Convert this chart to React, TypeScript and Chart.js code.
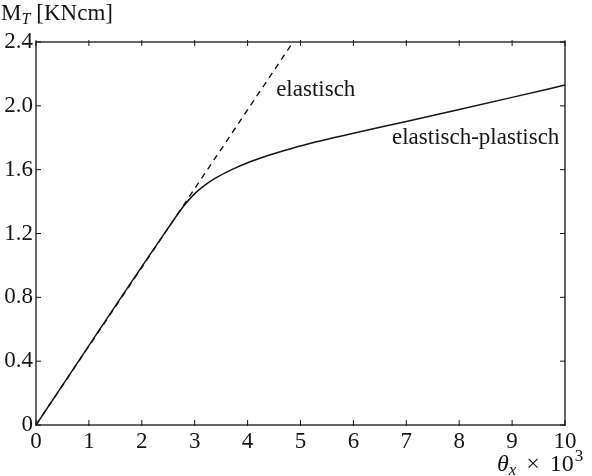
import React, { useEffect, useRef } from "react";
import { Chart, registerables } from "chart.js";

Chart.register(...registerables);

const elasticX = [0, 4.86];
const elasticY = [0, 2.4];

const plasticX = [0, 2.5, 2.8, 3.0, 3.2, 3.4, 3.7, 4.0, 4.4, 4.8, 5.3, 6.0, 7.0, 8.0, 9.0, 10];
const plasticY = [0, 1.235, 1.375, 1.45, 1.505, 1.548, 1.6, 1.643, 1.69, 1.73, 1.775, 1.828, 1.902, 1.977, 2.053, 2.13];

const xTickLabels = ["0", "1", "2", "3", "4", "5", "6", "7", "8", "9", "10"];
const yTickLabels = ["0", "0.4", "0.8", "1.2", "1.6", "2.0", "2.4"];

const labelElastic = { text: "elastisch", x: 4.54, y: 2.06 };
const labelPlastic = { text: "elastisch-plastisch", x: 6.73, y: 1.76 };

const FONT = "'Liberation Serif', 'DejaVu Serif', serif";
const INK = "#151515";

const framePlugin = {
  id: "frame",
  afterDraw(chart: any) {
    const { ctx, chartArea, scales } = chart;
    const { left, right, top, bottom } = chartArea;
    const xs = scales.x;
    const ys = scales.y;
    ctx.save();
    ctx.strokeStyle = INK;
    ctx.lineWidth = 1.3;
    ctx.strokeRect(left, top, right - left, bottom - top);
    const seg = (a: number, b: number, c: number, d: number) => {
      ctx.beginPath();
      ctx.moveTo(a, b);
      ctx.lineTo(c, d);
      ctx.stroke();
    };
    ctx.lineWidth = 1;
    xs.ticks.forEach((t: any) => {
      const px = xs.getPixelForValue(t.value);
      seg(px, bottom + 1, px, bottom - 5);
      seg(px, top - 2, px, top + 4);
    });
    ys.ticks.forEach((t: any) => {
      const py = ys.getPixelForValue(t.value);
      seg(left, py, left + 5, py);
      seg(right, py, right - 5, py);
    });

    ctx.fillStyle = INK;
    ctx.textBaseline = "alphabetic";
    ctx.textAlign = "left";
    ctx.font = `23px ${FONT}`;
    ctx.fillText(labelElastic.text, xs.getPixelForValue(labelElastic.x), ys.getPixelForValue(labelElastic.y));
    ctx.fillText(labelPlastic.text, xs.getPixelForValue(labelPlastic.x), ys.getPixelForValue(labelPlastic.y));

    // y-axis title: M_T [KNcm]
    let cx = 1;
    const by = 20;
    ctx.font = `23px ${FONT}`;
    ctx.fillText("M", cx, by);
    cx += ctx.measureText("M").width;
    ctx.font = `italic 16px ${FONT}`;
    ctx.fillText("T", cx, by + 4);
    cx += ctx.measureText("T").width + 6;
    ctx.font = `23px ${FONT}`;
    ctx.fillText("[KNcm]", cx, by);

    // x-axis title: θx × 10^3
    let tx = 497;
    const ty = 471;
    ctx.font = `italic 24px ${FONT}`;
    ctx.fillText("θ", tx, ty);
    tx += ctx.measureText("θ").width;
    ctx.font = `italic 17px ${FONT}`;
    ctx.fillText("x", tx, ty + 4);
    tx += ctx.measureText("x").width + 10;
    ctx.font = `24px ${FONT}`;
    ctx.fillText("×", tx, ty);
    tx += ctx.measureText("×").width + 10;
    ctx.fillText("10", tx, ty);
    tx += ctx.measureText("10").width + 1;
    ctx.font = `17px ${FONT}`;
    ctx.fillText("3", tx, ty - 10);
    ctx.restore();
  },
};

export default function App() {
  const ref = useRef<HTMLCanvasElement | null>(null);
  useEffect(() => {
    document.body.style.margin = "0";
    const canvas = ref.current!;
    const chart = new Chart(canvas, {
      type: "scatter",
      data: {
        datasets: [
          {
            label: "elastisch",
            data: elasticX.map((x, i) => ({ x, y: elasticY[i] })),
            showLine: true,
            borderColor: INK,
            borderWidth: 1.4,
            borderDash: [6, 5],
            pointRadius: 0,
          },
          {
            label: "elastisch-plastisch",
            data: plasticX.map((x, i) => ({ x, y: plasticY[i] })),
            showLine: true,
            borderColor: INK,
            borderWidth: 1.5,
            cubicInterpolationMode: "monotone",
            pointRadius: 0,
          },
        ],
      },
      options: {
        responsive: false,
        animation: false,
        layout: { padding: { left: 0, right: 27, top: 42, bottom: 0 } },
        plugins: { legend: { display: false }, tooltip: { enabled: false } },
        scales: {
          x: {
            type: "linear",
            min: 0,
            max: 10,
            afterFit: (s: any) => {
              s.height = 51;
            },
            grid: { display: false, drawTicks: false, tickLength: 0 },
            border: { display: false },
            ticks: {
              stepSize: 1,
              padding: 3,
              color: INK,
              maxRotation: 0,
              font: { family: FONT, size: 23 },
              callback: (_v: any, i: number) => xTickLabels[i],
            },
          },
          y: {
            type: "linear",
            min: 0,
            max: 2.4,
            afterFit: (s: any) => {
              s.width = 36;
            },
            grid: { display: false, drawTicks: false, tickLength: 0 },
            border: { display: false },
            ticks: {
              stepSize: 0.4,
              padding: 3,
              color: INK,
              font: { family: FONT, size: 23 },
              callback: (_v: any, i: number) => yTickLabels[i],
            },
          },
        },
      },
      plugins: [framePlugin],
    });
    return () => chart.destroy();
  }, []);
  return (
    <div style={{ position: "absolute", left: 0, top: 0, width: 592, height: 476, background: "#fff" }}>
      <canvas ref={ref} width={592} height={476} style={{ display: "block" }} />
    </div>
  );
}
